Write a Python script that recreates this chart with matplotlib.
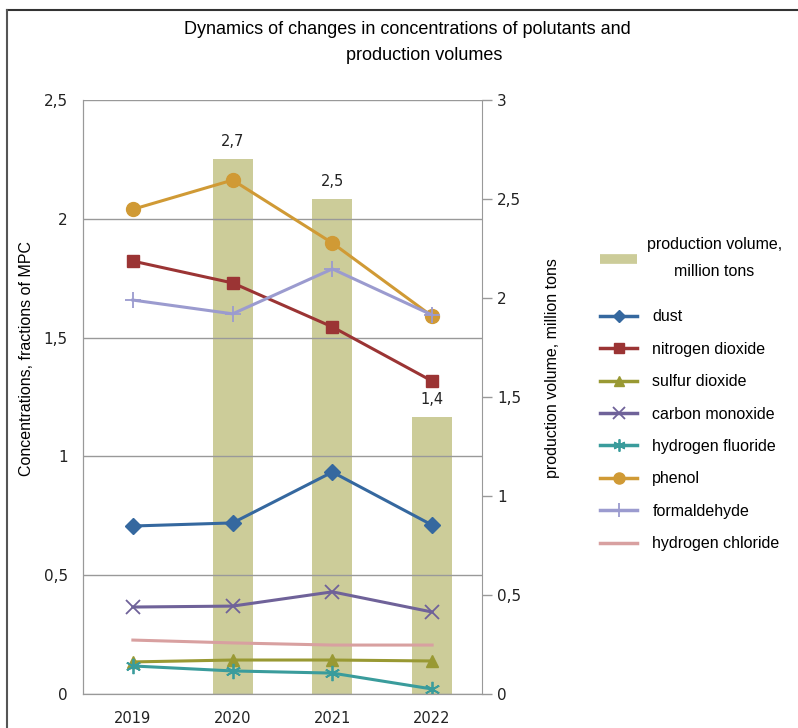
import numpy as np
import matplotlib.pyplot as plt
from matplotlib.lines import Line2D

years = ['2019', '2020', '2021', '2022']

# production volume, million tons (no value for 2019)
production = [np.nan, 2.7, 2.5, 1.4]

# concentrations, fractions of MPC
dust = [0.707, 0.72, 0.934, 0.711]
nitrogen_dioxide = [1.822, 1.73, 1.545, 1.317]
sulfur_dioxide = [0.135, 0.143, 0.143, 0.139]
carbon_monoxide = [0.366, 0.37, 0.43, 0.345]
hydrogen_fluoride = [0.118, 0.097, 0.088, 0.021]
phenol = [2.04, 2.163, 1.898, 1.59]
formaldehyde = [1.658, 1.6, 1.789, 1.595]
hydrogen_chloride = [0.227, 0.215, 0.206, 0.206]

W, H = 798, 728
fig = plt.figure(figsize=(W / 100, H / 100), dpi=100)
fig.patch.set_facecolor('white')

font = 'Liberation Sans'
tickfont = 'DejaVu Sans'
bar_color = '#cccc99'

ax = fig.add_axes([83 / W, 1 - 694 / H, (482 - 83) / W, (694 - 100) / H])
ax2 = ax.twinx()
# bars behind the lines
ax.set_zorder(2)
ax.patch.set_visible(False)
ax2.set_zorder(1)

x = np.arange(len(years))

ax2.bar(x, production, width=0.4, color=bar_color, zorder=1)
for xi, v in zip(x, production):
    if not np.isnan(v):
        ax2.text(xi, v + 0.05, ('%.1f' % v).replace('.', ','), ha='center', va='bottom',
                 fontsize=10.5, family=tickfont, color='#222222')

series = [
    ('dust', dust, '#35689f', 'D', 8, None),
    ('nitrogen dioxide', nitrogen_dioxide, '#9b3434', 's', 9, None),
    ('sulfur dioxide', sulfur_dioxide, '#999933', '^', 9, None),
    ('carbon monoxide', carbon_monoxide, '#6f6299', 'x', 10, 1.3),
    ('hydrogen fluoride', hydrogen_fluoride, '#3a9c9c', (6, 2, 0), 11, 1.3),
    ('phenol', phenol, '#d09a35', 'o', 10, None),
    ('formaldehyde', formaldehyde, '#9b9bcf', '+', 12, 1.3),
    ('hydrogen chloride', hydrogen_chloride, '#d8a0a0', None, 0, None),
]

handles = []
labels = []
for name, vals, col, mk, ms, mew in series:
    kw = {}
    if mew is not None:
        kw['markeredgewidth'] = mew
    ax.plot(x, vals, color=col, lw=2.2, marker=mk, markersize=ms,
            markeredgecolor=col, markerfacecolor=col, **kw)
    handles.append(Line2D([], [], color=col, lw=2.5, marker=mk, markersize=ms * 0.8,
                          markeredgecolor=col, markerfacecolor=col, **kw))
    labels.append(name)

ax.set_xlim(-0.5, 3.5)
ax.set_ylim(0, 2.5)
ax2.set_ylim(0, 3)

ax.set_yticks([0, 0.5, 1, 1.5, 2, 2.5])
ax.set_yticklabels(['0', '0,5', '1', '1,5', '2', '2,5'], family=tickfont, fontsize=11)
ax2.set_yticks([0, 0.5, 1, 1.5, 2, 2.5, 3])
ax2.set_yticklabels(['0', '0,5', '1', '1,5', '2', '2,5', '3'], family=tickfont, fontsize=11)
ax.set_xticks(x)
ax.set_xticklabels(years, family=tickfont, fontsize=10.5)

ax.tick_params(axis='y', length=0, pad=11, colors='#222222')
ax.tick_params(axis='x', length=0, pad=12, colors='#222222')
ax2.tick_params(axis='y', length=7, width=1, color='#999999', pad=4, labelcolor='#222222')
ax2.tick_params(axis='x', length=0)

ax.grid(axis='y', color='#999999', lw=1)
ax.set_axisbelow(True)
for a in (ax, ax2):
    for side in ('left', 'right', 'bottom'):
        a.spines[side].set_color('#999999')
    a.spines['top'].set_visible(False)
ax.spines['right'].set_visible(False)

ax.set_ylabel('Concentrations, fractions of MPC', family=font, fontsize=11.5)
ax.yaxis.set_label_coords(-(83 - 34) / (482 - 83), (694 - 358) / 594)
ax2.set_ylabel('production volume, million tons', family=font, fontsize=11.5)
ax2.yaxis.set_label_coords((545 - 83) / (482 - 83), (694 - 368) / 594)

fig.text(407 / W, 1 - 30 / H, 'Dynamics of changes in concentrations of polutants and',
         ha='center', va='center', family=font, fontsize=13)
fig.text(424 / W, 1 - 55 / H, 'production volumes',
         ha='center', va='center', family=font, fontsize=13)

# legend: the bar entry on its own, then the pollutant lines
leg_bar = fig.legend([Line2D([], [], color=bar_color, lw=7, solid_capstyle='butt')],
                     ['production volume,\nmillion tons'], loc='upper left',
                     bbox_to_anchor=(586 / W, 1 - 223 / H), frameon=False,
                     prop={'family': font, 'size': 11.5}, handlelength=2.3, handletextpad=0.6)
txt = leg_bar.get_texts()[0]
txt.set_multialignment('center')
txt.set_linespacing(2.0)

leg = fig.legend(handles, labels, loc='upper left', bbox_to_anchor=(586 / W, 1 - 295 / H),
                 frameon=False, prop={'family': font, 'size': 11.5}, handlelength=2.3,
                 labelspacing=1.09, handletextpad=0.95)

# chart frame
fig.add_artist(Line2D([7 / W, 1], [1 - 9.5 / H, 1 - 9.5 / H], color='#333333', lw=1.5,
                      transform=fig.transFigure))
fig.add_artist(Line2D([7 / W, 7 / W], [0, 1 - 9.5 / H], color='#555555', lw=1.5,
                      transform=fig.transFigure))

fig.savefig('out.png', dpi=100)
